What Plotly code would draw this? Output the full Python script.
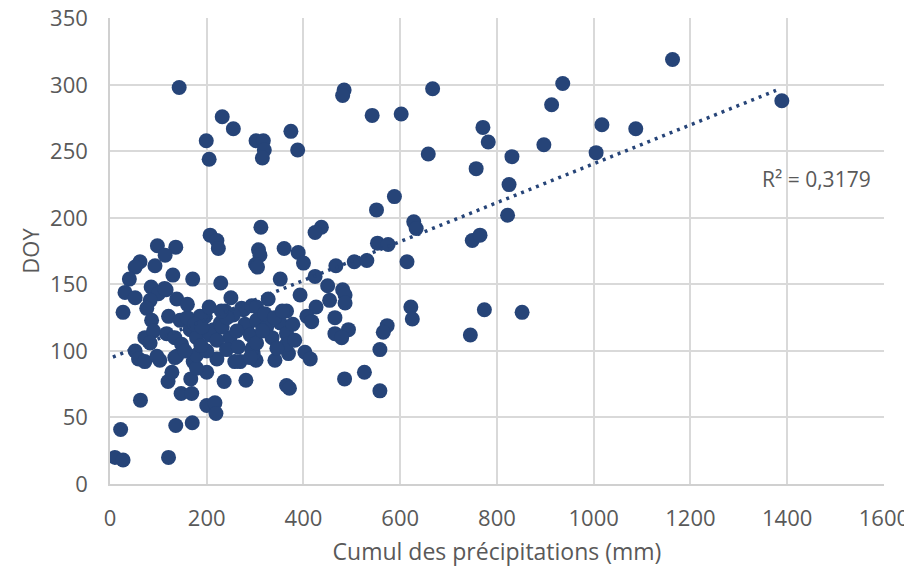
import numpy as np
import plotly.graph_objects as go

# Cumul des précipitations (mm)
precip = [
    143, 232, 255, 199, 205, 302, 317, 319, 315, 374, 388, 484, 481, 542, 602, 588, 551,
    312, 207, 437, 424, 667, 936, 913, 1163, 771, 782, 1017, 1087, 897, 1005, 658, 831,
    757, 825, 822, 628, 633, 749, 765, 553, 575, 614, 622, 625, 774, 852, 745, 573, 565,
    558, 558, 1389, 307, 310, 360, 389, 400, 301, 305, 467, 505, 531, 352, 424, 450, 393,
    481, 486, 327, 454, 486, 426, 365, 276, 465, 407, 417, 493, 465, 479, 403, 414, 526,
    485, 365, 371, 281, 302, 341, 369, 269, 22, 10, 27, 121, 136, 170, 200, 217, 219, 63,
    147, 169, 120, 167, 236, 200, 128, 258, 221, 296, 103, 52, 59, 72, 138, 172, 179, 221,
    224, 98, 136, 114, 62, 52, 93, 130, 171, 229, 40, 31, 52, 85, 116, 100, 138, 83, 76,
    27, 86, 250, 121, 145, 197, 272, 293, 238, 214, 248, 283, 72, 97, 296, 186, 228, 255,
    279, 90, 117, 134, 166, 179, 207, 221, 290, 134, 179, 293, 83, 148, 241, 303, 303, 324,
    352, 365, 335, 365, 303, 290, 113, 160, 175, 190, 232, 242, 262, 200, 155, 188, 315,
    320, 340, 345, 356, 378, 382, 265, 230, 160, 205,
]
# DOY
doy = [
    298, 276, 267, 258, 244, 258, 258, 251, 245, 265, 251, 296, 292, 277, 278, 216, 206,
    193, 187, 193, 189, 297, 301, 285, 319, 268, 257, 270, 267, 255, 249, 248, 246,
    237, 225, 202, 197, 192, 183, 187, 181, 180, 167, 133, 124, 131, 129, 112, 119, 114,
    101, 70, 288, 176, 172, 177, 174, 166, 165, 163, 164, 167, 168, 154, 156, 149, 142,
    146, 142, 139, 138, 136, 133, 130, 131, 125, 126, 122, 116, 113, 110, 99, 94, 84,
    79, 74, 72, 78, 93, 93, 98, 92, 41, 20, 18, 20, 44, 46, 59, 61, 53, 63,
    68, 68, 77, 79, 77, 84, 84, 92, 94, 98, 93, 100, 94, 92, 96, 92, 87, 183,
    177, 179, 178, 172, 167, 163, 164, 157, 154, 151, 154, 144, 140, 148, 146, 143, 139, 138, 132,
    129, 123, 140, 126, 123, 126, 132, 134, 130, 116, 110, 118, 110, 96, 103, 126, 121, 127,
    120, 115, 113, 110, 116, 110, 112, 108, 112, 95, 97, 101, 106, 105, 101, 133, 123, 118,
    121, 113, 110, 105, 106, 95, 147, 125, 120, 118, 118, 125, 115, 100, 100, 104, 115,
    128, 125, 102, 130, 120, 108, 103, 130, 135, 133,
]

x_ticks = [0, 200, 400, 600, 800, 1000, 1200, 1400, 1600]
y_ticks = [0, 50, 100, 150, 200, 250, 300, 350]
r2_label = "R² = 0,3179"

xa = np.array(precip, dtype=float)
ya = np.array(doy, dtype=float)
slope, intercept = np.polyfit(xa, ya, 1)
tx = np.array([6.0, xa.max() - 12])
ty = intercept + slope * tx

marker_color = "#264478"
grid_color = "#d9d9d9"
text_color = "#595959"
font_family = "Open Sans, Lato, sans-serif"

fig = go.Figure()
fig.add_trace(go.Scatter(
    x=precip, y=doy, mode="markers",
    marker=dict(color=marker_color, size=15, line=dict(width=0)),
    showlegend=False, hoverinfo="x+y",
))
fig.add_trace(go.Scatter(
    x=tx, y=ty, mode="lines",
    line=dict(color=marker_color, width=3.5, dash="3px,5px"),
    showlegend=False, hoverinfo="skip",
))

fig.add_annotation(
    x=1344, y=229, xref="x", yref="y", text=r2_label, showarrow=False,
    xanchor="left", yanchor="middle",
    font=dict(family=font_family, size=21, color=text_color),
)

# the page has an 8px body margin: figure size and margins compensate for it
fig.update_layout(
    width=904, height=559,
    margin=dict(l=102, r=28, t=10, b=83),
    paper_bgcolor="white", plot_bgcolor="white",
    font=dict(family=font_family, color=text_color),
)
fig.update_xaxes(
    range=[0, 1600.2], tickvals=x_ticks, ticktext=[str(v) for v in x_ticks],
    showgrid=True, gridcolor=grid_color, gridwidth=1.5,
    showline=True, linecolor="#d0d0d0", linewidth=1.5,
    zeroline=False, ticks="", tickfont=dict(size=22, color=text_color),
    ticklabelstandoff=14, ticklabeloverflow="allow", automargin=False,
    title=dict(text="Cumul des précipitations (mm)", font=dict(size=23, color=text_color), standoff=17),
)
fig.update_yaxes(
    range=[0, 350.2], tickvals=y_ticks, ticktext=[str(v) for v in y_ticks],
    showgrid=True, gridcolor=grid_color, gridwidth=1.5,
    showline=True, linecolor="#d0d0d0", linewidth=1.5,
    zeroline=False, ticks="", tickfont=dict(size=22, color=text_color),
    ticklabelstandoff=16, ticklabeloverflow="allow", automargin=False,
    title=dict(text="DOY", font=dict(size=22, color=text_color), standoff=4),
)

fig.write_html("out.html")
